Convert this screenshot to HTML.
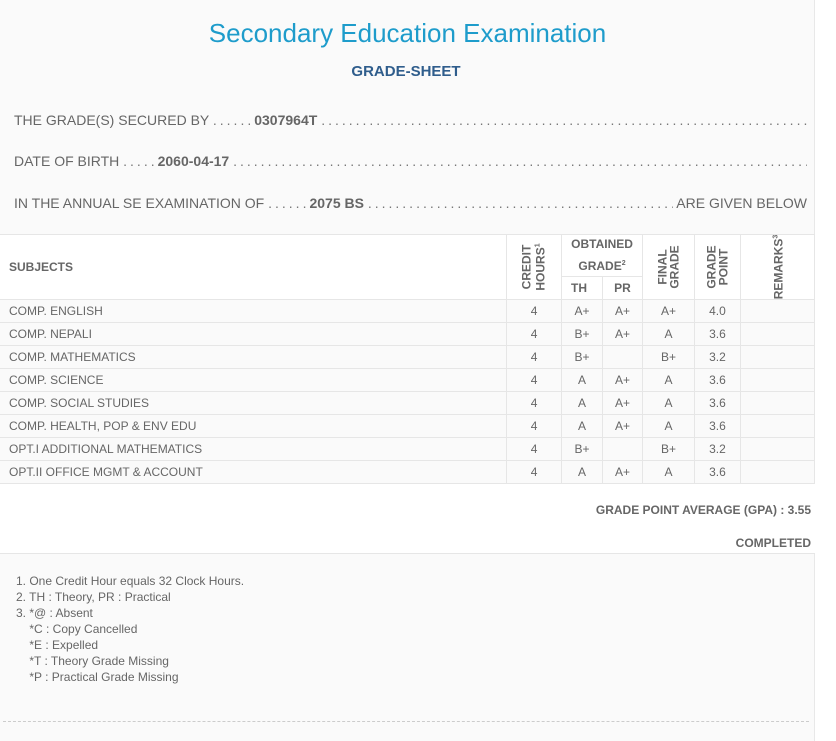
<!DOCTYPE html>
<html><head><meta charset="utf-8"><style>
*{margin:0;padding:0;box-sizing:border-box}
body{width:836px;height:741px;background:#fff;font-family:"Liberation Sans",sans-serif;color:#666;position:relative;overflow:hidden}
#pg{position:absolute;left:0;top:0;width:815px;height:741px;background:#fafafa;border-right:1px solid #e8e8e8}
.a{position:absolute;white-space:nowrap}
.t{font-size:26px;color:#1e9ccb;left:0;width:815px;text-align:center;top:18px}
.g{font-size:15px;color:#2f5d8c;font-weight:bold;left:0;width:812px;text-align:center;top:63px}
.ln{font-size:14px;left:14px;width:793px;overflow:hidden;color:#666}
.ln b{color:#666}
.dots{letter-spacing:3px;color:#777}
table{position:absolute;left:0;top:234px;border-collapse:collapse;font-size:12px;width:815px}
td,th{border:1px solid #e6e6e6;height:23px;text-align:center}
tr td:first-child,tr th:first-child{border-left:none;text-align:left;padding-left:9px}
th{font-weight:bold;color:#666;font-size:12px;background:#fff}
tbody td{background:#fafafa}
.rot{display:inline-block;transform:rotate(-90deg);font-family:"Liberation Sans",sans-serif;font-size:12px;line-height:12px;font-weight:bold;white-space:nowrap}
.r{font-size:13px;font-weight:bold;right:25px;text-align:right}
.n{font-size:12px;left:16px;line-height:16px}
</style></head><body><div id="pg">
<div class="a t">Secondary Education Examination</div>
<div class="a g">GRADE-SHEET</div>
<div class="a ln" style="top:112px">THE GRADE(S) SECURED BY <span class="dots">......</span><b>0307964T</b> <span class="dots">..................................................................................................</span></div>
<div class="a ln" style="top:153px">DATE OF BIRTH <span class="dots">.....</span><b>2060-04-17</b> <span class="dots">..........................................................................................................</span></div>
<div class="a ln" style="top:195px">IN THE ANNUAL SE EXAMINATION OF <span class="dots">......</span><b>2075 BS</b> <span class="dots">...................................................................................</span><span style="position:absolute;right:0;background:#fafafa;padding-left:3px">ARE GIVEN BELOW</span></div>
<table>
<colgroup><col style="width:507px"><col style="width:55px"><col style="width:41px"><col style="width:40px"><col style="width:52px"><col style="width:46px"><col style="width:74px"></colgroup>
<thead>
<tr><th rowspan="2" style="height:65px">SUBJECTS</th><th rowspan="2"><span class="rot">CREDIT<br>HOURS<sup style="font-size:7px">1</sup></span></th><th colspan="2" style="height:42px;line-height:19px">OBTAINED<br>GRADE<sup style="font-size:7px">2</sup></th><th rowspan="2"><span class="rot">FINAL<br>GRADE</span></th><th rowspan="2"><span class="rot">GRADE<br>POINT</span></th><th rowspan="2"><span class="rot">REMARKS<sup style="font-size:7px">3</sup></span></th></tr>
<tr><th>TH</th><th>PR</th></tr>
</thead><tbody>
<tr><td>COMP. ENGLISH</td><td>4</td><td>A+</td><td>A+</td><td>A+</td><td>4.0</td><td></td></tr>
<tr><td>COMP. NEPALI</td><td>4</td><td>B+</td><td>A+</td><td>A</td><td>3.6</td><td></td></tr>
<tr><td>COMP. MATHEMATICS</td><td>4</td><td>B+</td><td></td><td>B+</td><td>3.2</td><td></td></tr>
<tr><td>COMP. SCIENCE</td><td>4</td><td>A</td><td>A+</td><td>A</td><td>3.6</td><td></td></tr>
<tr><td>COMP. SOCIAL STUDIES</td><td>4</td><td>A</td><td>A+</td><td>A</td><td>3.6</td><td></td></tr>
<tr><td>COMP. HEALTH, POP &amp; ENV EDU</td><td>4</td><td>A</td><td>A+</td><td>A</td><td>3.6</td><td></td></tr>
<tr><td>OPT.I ADDITIONAL MATHEMATICS</td><td>4</td><td>B+</td><td></td><td>B+</td><td>3.2</td><td></td></tr>
<tr><td>OPT.II OFFICE MGMT &amp; ACCOUNT</td><td>4</td><td>A</td><td>A+</td><td>A</td><td>3.6</td><td></td></tr>
</tbody></table>
<div class="a" style="left:0;top:484px;width:815px;height:70px;background:#fff;border-bottom:1px solid #e6e6e6"></div>
<div class="a r" style="top:503px;right:3px;font-size:12px">GRADE POINT AVERAGE (GPA) : 3.55</div>
<div class="a r" style="top:536px;right:3px;font-size:12px">COMPLETED</div>
<div class="a n" style="top:573px">1. One Credit Hour equals 32 Clock Hours.<br>2. TH : Theory, PR : Practical<br>3. *@ : Absent<br>&nbsp;&nbsp;&nbsp; *C : Copy Cancelled<br>&nbsp;&nbsp;&nbsp; *E : Expelled<br>&nbsp;&nbsp;&nbsp; *T : Theory Grade Missing<br>&nbsp;&nbsp;&nbsp; *P : Practical Grade Missing</div>
<div class="a" style="left:3px;top:721px;width:806px;border-top:1px dashed #ccc"></div>
</div></body></html>
